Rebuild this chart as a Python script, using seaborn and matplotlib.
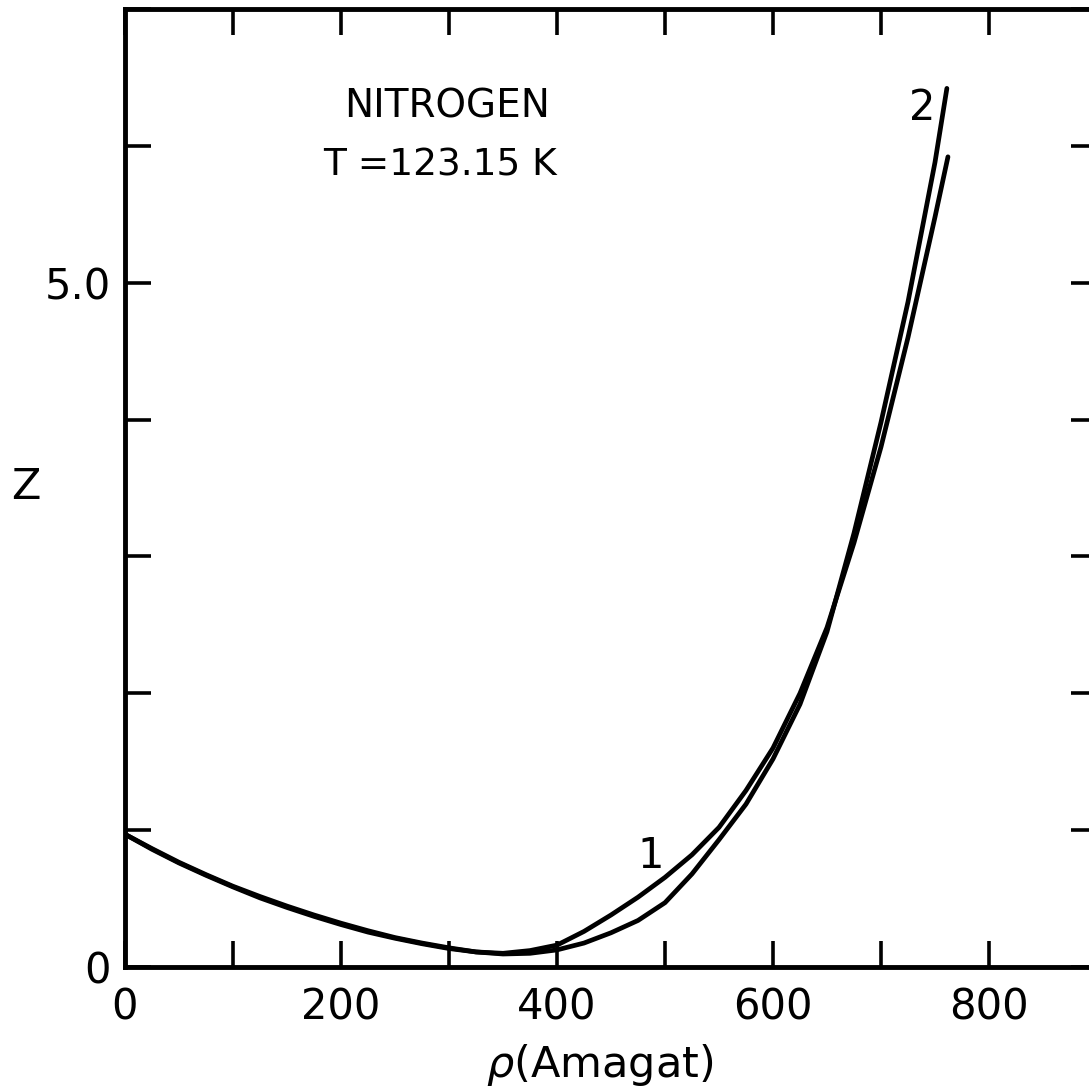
import numpy as np
import pandas as pd
import matplotlib
matplotlib.use("Agg")
import matplotlib.pyplot as plt
import seaborn as sns
from matplotlib.ticker import MultipleLocator, FixedLocator, FuncFormatter

# ---- data ----
rho_1 = [0, 25, 50, 75, 100, 125, 150, 175, 200, 225, 250, 275, 300, 325, 350, 375, 400,
         425, 450, 475, 500, 525, 550, 575, 600, 625, 650, 675, 700, 725, 750, 762]
z_1 = [0.97, 0.86, 0.76, 0.67, 0.585, 0.505, 0.435, 0.37, 0.31, 0.255, 0.21, 0.17, 0.135, 0.11, 0.10, 0.12, 0.16,
       0.26, 0.38, 0.51, 0.655, 0.82, 1.02, 1.29, 1.60, 2.00, 2.48, 3.10, 3.80, 4.60, 5.48, 5.92]

rho_2 = [0, 25, 50, 75, 100, 125, 150, 175, 200, 225, 250, 275, 300, 325, 350, 375, 400,
         425, 450, 475, 500, 525, 550, 575, 600, 625, 650, 675, 700, 725, 750, 761]
z_2 = [0.97, 0.865, 0.765, 0.675, 0.59, 0.515, 0.445, 0.38, 0.32, 0.265, 0.215, 0.175, 0.14, 0.11, 0.095, 0.10, 0.125,
       0.175, 0.25, 0.34, 0.47, 0.68, 0.93, 1.19, 1.52, 1.92, 2.45, 3.17, 3.98, 4.86, 5.88, 6.42]

curve_labels = ["1", "2"]
label_pos_rho = [487, 738]
label_pos_z = [0.81, 6.28]

x_major = [0, 200, 400, 600, 800]
y_labelled = {0: "0", 5: "5.0"}

title_lines = ["NITROGEN", "T =123.15 K"]
xlabel = "$\\rho$(Amagat)"
ylabel = "Z"

df = pd.concat([
    pd.DataFrame({"rho": rho_1, "Z": z_1, "curve": "1"}),
    pd.DataFrame({"rho": rho_2, "Z": z_2, "curve": "2"}),
], ignore_index=True)

sns.set_style("ticks")
plt.rcParams["font.family"] = ["DejaVu Sans"]
plt.rcParams["mathtext.fontset"] = "dejavusans"
plt.rcParams["text.color"] = "black"
plt.rcParams["axes.labelcolor"] = "black"
plt.rcParams["xtick.color"] = "black"
plt.rcParams["ytick.color"] = "black"

fig = plt.figure(figsize=(10.89, 10.87), dpi=100)
ax = fig.add_axes([125 / 1089, 120 / 1087, (1097 - 125) / 1089, (967 - 9) / 1087])

sns.lineplot(data=df, x="rho", y="Z", units="curve", estimator=None, sort=False,
             color="black", linewidth=3.4, ax=ax, legend=False)
for ln in ax.lines:
    ln.set_solid_capstyle("round")
    ln.set_solid_joinstyle("round")

ax.set_xlim(0, 900)
ax.set_ylim(0, 7)

ax.xaxis.set_major_locator(FixedLocator(x_major))
ax.xaxis.set_minor_locator(MultipleLocator(100))
ax.yaxis.set_major_locator(MultipleLocator(1))
ax.yaxis.set_major_formatter(FuncFormatter(lambda v, p: y_labelled.get(int(round(v)), "")))

ax.tick_params(which="both", direction="in", length=19, width=2.6,
               top=True, right=True, color="black", labelcolor="black")
ax.tick_params(axis="x", which="major", labelsize=30, pad=14)
ax.tick_params(axis="y", which="major", labelsize=30, pad=10)
for s in ax.spines.values():
    s.set_linewidth(3.5)
    s.set_color("black")

ax.set_xlabel(xlabel, fontsize=31, color="black")
ax.xaxis.set_label_coords((600 - 125) / 972, -(1065 - 967) / 958)
ax.xaxis.label.set_va("center")
ax.set_ylabel(ylabel, fontsize=31, rotation=0, va="center", color="black")
ax.yaxis.set_label_coords(-(125 - 26) / 972, (967 - 487) / 958)
ax.yaxis.label.set_ha("center")

ax.text((447 - 125) / 972, (967 - 106) / 958, title_lines[0], transform=ax.transAxes,
        fontsize=28, ha="center", va="center", color="black")
ax.text((440 - 125) / 972, (967 - 165) / 958, title_lines[1], transform=ax.transAxes,
        fontsize=27, ha="center", va="center", color="black")

for lab, xr, yz in zip(curve_labels, label_pos_rho, label_pos_z):
    ax.text(xr, yz, lab, fontsize=30, ha="center", va="center", color="black")

fig.savefig("out.png", dpi=100)
